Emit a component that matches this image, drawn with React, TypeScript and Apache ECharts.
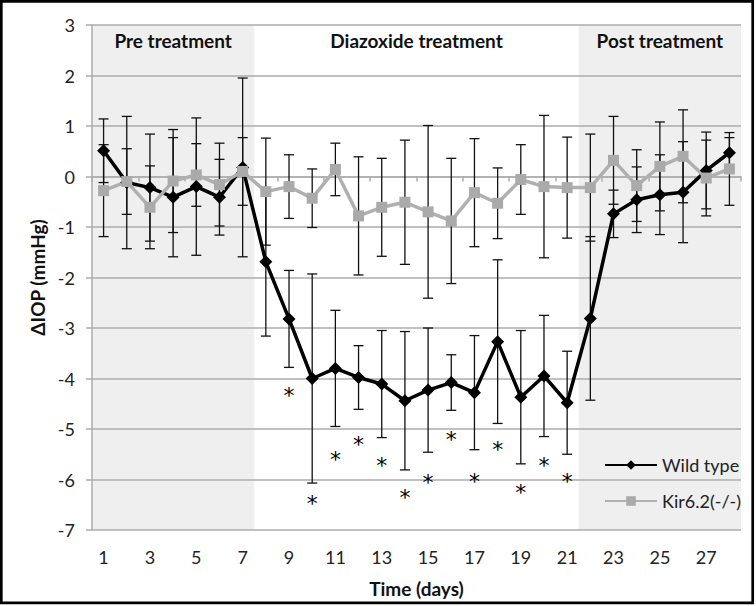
import React, { useEffect, useRef } from "react";
import * as echarts from "echarts";

const days = ["1","2","3","4","5","6","7","8","9","10","11","12","13","14","15","16","17","18","19","20","21","22","23","24","25","26","27","28"];

const wildType = [0.51, -0.12, -0.22, -0.41, -0.2, -0.41, 0.18, -1.69, -2.82, -4.0, -3.8, -3.98, -4.11, -4.44, -4.23, -4.08, -4.28, -3.27, -4.37, -3.95, -4.48, -2.81, -0.74, -0.46, -0.36, -0.31, 0.12, 0.47];
const wildErr = [0.63, 1.31, 1.06, 1.18, 1.36, 0.75, 1.77, 1.47, 0.96, 2.07, 1.15, 0.63, 1.06, 1.37, 1.23, 0.55, 1.13, 1.62, 1.32, 1.2, 1.02, 1.62, 0.47, 0.65, 0.79, 1.0, 0.76, 0.3];

const kir = [-0.28, -0.1, -0.61, -0.09, 0.03, -0.16, 0.1, -0.3, -0.2, -0.43, 0.14, -0.78, -0.61, -0.51, -0.7, -0.88, -0.32, -0.53, -0.06, -0.2, -0.22, -0.22, 0.32, -0.18, 0.2, 0.4, -0.03, 0.15];
const kirErr = [0.91, 0.65, 0.82, 1.02, 0.62, 0.82, 0.67, 1.06, 0.63, 0.58, 0.52, 1.17, 0.97, 1.23, 1.71, 1.24, 1.07, 0.7, 0.69, 1.41, 1.0, 1.06, 0.87, 0.71, 0.88, 0.92, 0.75, 0.72];

const sigDays = ["9","10","11","12","13","14","15","16","17","18","19","20","21"];
const sigLevel = [-4.23, -6.37, -5.51, -5.2, -5.63, -6.25, -5.97, -5.1, -5.95, -5.3, -6.15, -5.63, -5.95];

const periodStart = ["1", "8", "22"];
const periodEnd = ["7", "21", "28"];
const periodNames = ["Pre treatment", "Diazoxide treatment", "Post treatment"];
const periodShaded = [1, 0, 1];

const yMin = -7;
const yMax = 3;

const FONT = "Lato, 'Open Sans', sans-serif";

export default function App() {
  const ref = useRef<HTMLDivElement>(null);
  useEffect(() => {
    if (!ref.current) return;
    const chart = echarts.init(ref.current, null, { renderer: "svg" });
    const idx = (d: string) => days.indexOf(d);

    const periodData = periodStart.map((s, i) => [idx(s), idx(periodEnd[i]), i, periodShaded[i]]);
    const wildBars = wildType.map((v, i) => [i, v - wildErr[i], v + wildErr[i]]);
    const kirBars = kir.map((v, i) => [i, v - kirErr[i], v + kirErr[i]]);
    const sigData = sigDays.map((d, i) => [idx(d), sigLevel[i]]);

    const errRender = (params: any, api: any) => {
      const i = api.value(0);
      const lo = api.coord([i, api.value(1)]);
      const hi = api.coord([i, api.value(2)]);
      const cap = 5;
      const st = { stroke: "#111", lineWidth: 1.3 };
      return {
        type: "group",
        children: [
          { type: "line", shape: { x1: lo[0], y1: lo[1], x2: hi[0], y2: hi[1] }, style: st },
          { type: "line", shape: { x1: lo[0] - cap, y1: lo[1], x2: lo[0] + cap, y2: lo[1] }, style: st },
          { type: "line", shape: { x1: hi[0] - cap, y1: hi[1], x2: hi[0] + cap, y2: hi[1] }, style: st },
        ],
      };
    };

    chart.setOption({
      animation: false,
      backgroundColor: "#ffffff",
      textStyle: { fontFamily: FONT },
      grid: { left: 92, right: 15, top: 25, bottom: 76, containLabel: false },
      legend: {
        orient: "vertical",
        left: 599,
        top: 451,
        itemWidth: 52,
        itemHeight: 12,
        itemGap: 18,
        textStyle: { fontSize: 18, color: "#222", fontFamily: FONT },
        data: ["Wild type", "Kir6.2(-/-)"],
      },
      xAxis: [
        {
          type: "category",
          data: days,
          position: "bottom",
          boundaryGap: true,
          axisLine: { show: false, onZero: false },
          axisTick: { show: false },
          axisLabel: { interval: 1, fontSize: 18, color: "#222", margin: 18, fontFamily: FONT },
          splitLine: { show: false },
          name: "Time (days)",
          nameLocation: "middle",
          nameGap: 49,
          nameTextStyle: { fontSize: 19, fontWeight: "bold", color: "#111", fontFamily: FONT },
        },
        {
          type: "category",
          data: days,
          position: "top",
          boundaryGap: true,
          axisLine: { show: true, onZero: true, lineStyle: { color: "#adadad", width: 1.5 } },
          axisTick: { show: true, inside: true, interval: 1, length: 5, lineStyle: { color: "#adadad", width: 1.5 } },
          axisLabel: { show: false },
          splitLine: { show: false },
        },
      ],
      yAxis: {
        type: "value",
        min: yMin,
        max: yMax,
        interval: 1,
        axisLine: { show: true, lineStyle: { color: "#adadad", width: 1.5 } },
        axisTick: { show: true, length: 6, lineStyle: { color: "#adadad", width: 1.5 } },
        axisLabel: { fontSize: 18, color: "#222", margin: 17, fontFamily: FONT },
        splitLine: { show: true, lineStyle: { color: "#adadad", width: 1.5 } },
        name: "ΔIOP (mmHg)",
        nameLocation: "middle",
        nameGap: 43,
        nameTextStyle: { fontSize: 19, fontWeight: "bold", color: "#111", fontFamily: FONT },
      },
      graphic: [
        {
          type: "rect",
          shape: { x: 1.3, y: 1.3, width: 751.4, height: 601.6 },
          style: { fill: "none", stroke: "#000", lineWidth: 2.7 },
          z: 100,
          silent: true,
        },
      ],
      series: [
        {
          type: "custom",
          name: "periods",
          z: -1,
          silent: true,
          data: periodData,
          encode: { x: [0, 1] },
          renderItem: (params: any, api: any) => {
            const p1 = api.coord([api.value(0), yMax]);
            const p2 = api.coord([api.value(1), yMin]);
            const band = api.size([1, 0])[0];
            const k = api.value(2);
            const children: any[] = [];
            if (api.value(3)) {
              children.push({
                type: "rect",
                shape: { x: p1[0] - band / 2, y: p1[1], width: p2[0] - p1[0] + band, height: p2[1] - p1[1] },
                style: { fill: "#efefef" },
              });
            }
            children.push({
              type: "text",
              x: (p1[0] + p2[0]) / 2,
              y: p1[1] + 15,
              style: {
                text: periodNames[k],
                fontSize: 19,
                fontWeight: "bold",
                fontFamily: FONT,
                fill: "#111",
                align: "center",
                verticalAlign: "middle",
              },
            });
            return { type: "group", children };
          },
        },
        {
          type: "custom",
          name: "wildErr",
          silent: true,
          data: wildBars,
          encode: { x: 0, y: [1, 2] },
          renderItem: errRender,
        },
        {
          type: "custom",
          name: "kirErr",
          silent: true,
          data: kirBars,
          encode: { x: 0, y: [1, 2] },
          renderItem: errRender,
        },
        {
          type: "line",
          name: "Wild type",
          data: wildType,
          symbol: "diamond",
          symbolSize: 13,
          showSymbol: true,
          itemStyle: { color: "#000" },
          lineStyle: { color: "#000", width: 3.5 },
        },
        {
          type: "line",
          name: "Kir6.2(-/-)",
          data: kir,
          symbol: "rect",
          symbolSize: 11,
          showSymbol: true,
          itemStyle: { color: "#aaaaaa" },
          lineStyle: { color: "#b0b0b0", width: 3.5 },
        },
        {
          type: "custom",
          name: "sig",
          silent: true,
          data: sigData,
          encode: { x: 0, y: 1 },
          renderItem: (params: any, api: any) => {
            const p = api.coord([api.value(0), api.value(1)]);
            return {
              type: "text",
              x: p[0],
              y: p[1] + 5,
              style: {
                text: "*",
                fontSize: 22,
                fontFamily: "'DejaVu Sans', sans-serif",
                fill: "#000",
                align: "center",
                verticalAlign: "middle",
              },
            };
          },
        },
      ],
    });
    return () => chart.dispose();
  }, []);
  return (
    <div
      ref={ref}
      style={{ position: "fixed", left: 0, top: 0, width: 756, height: 606 }}
    />
  );
}
